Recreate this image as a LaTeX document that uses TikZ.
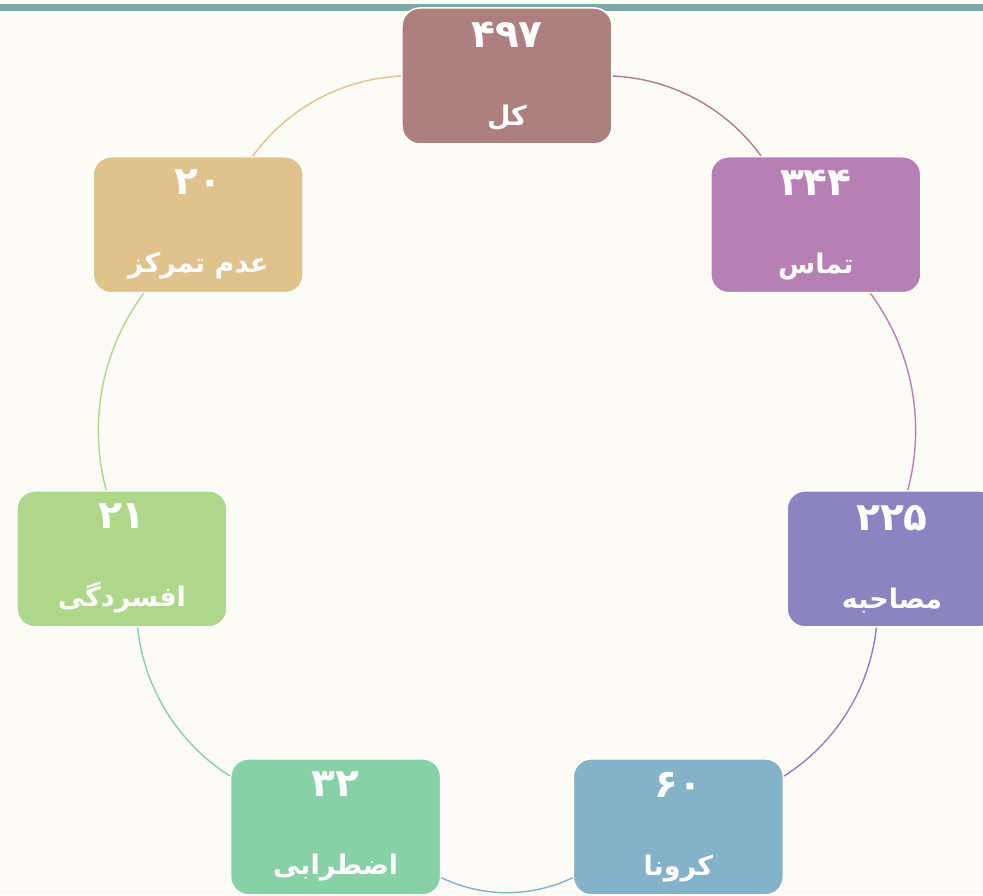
\documentclass[tikz,border=0pt]{standalone}
\usepackage{fontspec}
\newfontfamily\farsi[Script=Arabic]{DejaVu Sans}
\TeXXeTstate=1
\definecolor{bgcream}{HTML}{FCFBF5}
\definecolor{topbar}{HTML}{7BAAA6}
\definecolor{colKol}{HTML}{AD7F7F}
\definecolor{colTamas}{HTML}{B780B4}
\definecolor{colMosahebe}{HTML}{8C84C0}
\definecolor{colCorona}{HTML}{84B2C8}
\definecolor{colEzterab}{HTML}{88D0A6}
\definecolor{colAfsordegi}{HTML}{AED78A}
\definecolor{colTamarkoz}{HTML}{E0C28D}
\newcommand{\bignum}[1]{{\fontsize{39}{78}\selectfont #1}}
\tikzset{
  boxnode/.style={draw=white, line width=1.5pt, fill=#1, rounded corners=18pt,
    minimum width=210pt, minimum height=136pt, inner sep=0pt, text=white,
    align=center, font=\farsi\bfseries\fontsize{27}{78}\selectfont},
  ring/.style={draw=#1, line width=1.4pt, bend left=25.7, looseness=0.9}
}
\begin{document}
\begin{tikzpicture}[x=1pt,y=1pt]
  \useasboundingbox[fill=bgcream] (-507,-424) rectangle (476,471);
  \fill[topbar] (-507,460) rectangle (476,467);

  \node[boxnode=colKol] (kol) at (90:395) {\bignum{۴۹۷}\\\beginR کل\endR};
  \node[boxnode=colTamas] (tamas) at (38.57:395) {\bignum{۳۴۴}\\\beginR تماس\endR};
  \node[boxnode=colMosahebe] (mosahebe) at (-12.86:395) {\bignum{۲۲۵}\\\beginR مصاحبه\endR};
  \node[boxnode=colCorona] (corona) at (-64.29:395) {\bignum{۶۰}\\\beginR کرونا\endR};
  \node[boxnode=colEzterab] (ezterab) at (-115.71:395) {\bignum{۳۲}\\\beginR اضطرابی\endR};
  \node[boxnode=colAfsordegi] (afsordegi) at (-167.14:395) {\bignum{۲۱}\\\beginR افسردگی\endR};
  \node[boxnode=colTamarkoz] (tamarkoz) at (141.43:395) {\bignum{۲۰}\\\beginR عدم تمرکز\endR};

  \draw[ring=colKol] (kol) to (tamas);
  \draw[ring=colTamas] (tamas) to (mosahebe);
  \draw[ring=colMosahebe] (mosahebe) to (corona);
  \draw[ring=colCorona] (corona) to (ezterab);
  \draw[ring=colEzterab] (ezterab) to (afsordegi);
  \draw[ring=colAfsordegi] (afsordegi) to (tamarkoz);
  \draw[ring=colTamarkoz] (tamarkoz) to (kol);
\end{tikzpicture}
\end{document}
